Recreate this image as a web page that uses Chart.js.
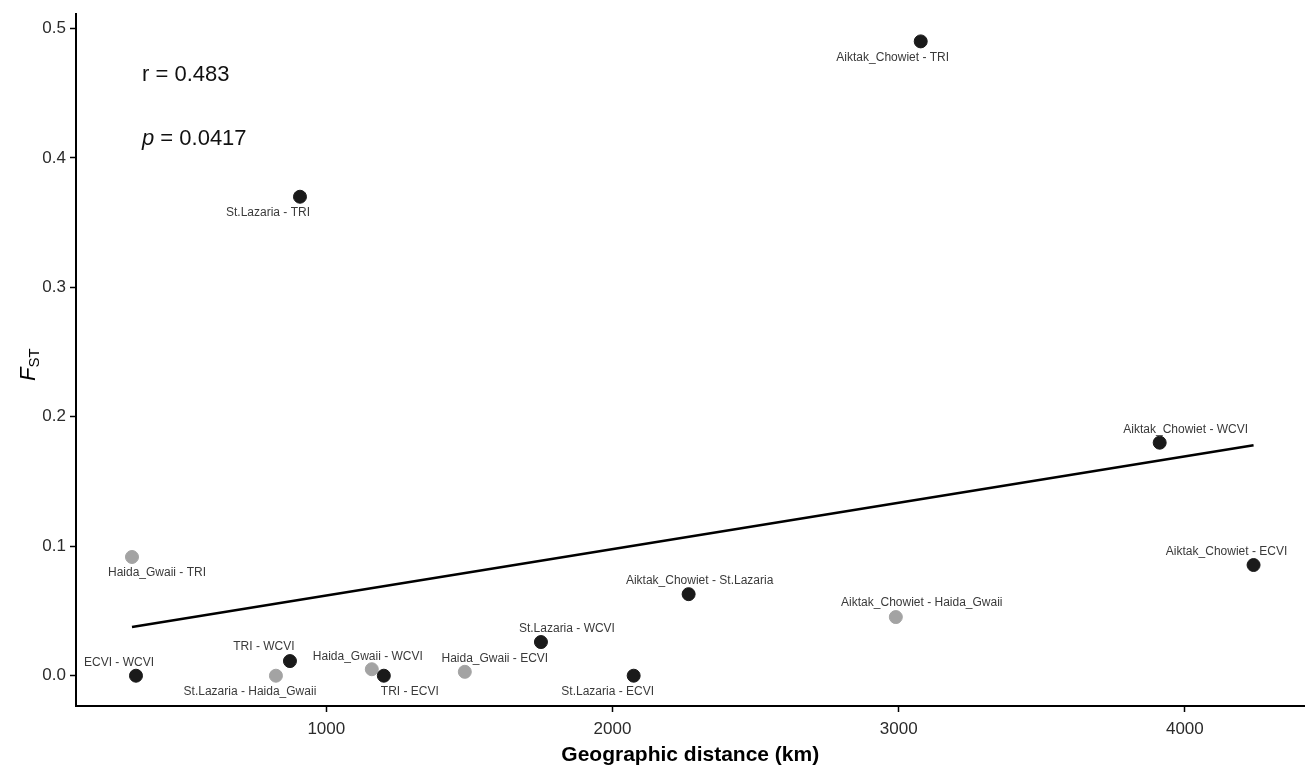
<!DOCTYPE html>
<html>
<head>
<meta charset="utf-8">
<script src="https://cdn.jsdelivr.net/npm/chart.js@4.4.1/dist/chart.umd.min.js"></script>
<style>
  html, body { margin: 0; padding: 0; background: #fff; }
  #wrap { width: 1312px; height: 773px; }
</style>
</head>
<body>
<div id="wrap"><canvas id="chart" width="1312" height="773"></canvas></div>
<script>
// DATA
const pairs = [
  "Aiktak_Chowiet - TRI", "St.Lazaria - TRI", "Aiktak_Chowiet - WCVI", "Aiktak_Chowiet - ECVI",
  "Haida_Gwaii - TRI", "Aiktak_Chowiet - St.Lazaria", "Aiktak_Chowiet - Haida_Gwaii", "St.Lazaria - WCVI",
  "ECVI - WCVI", "TRI - WCVI", "St.Lazaria - Haida_Gwaii", "Haida_Gwaii - WCVI",
  "TRI - ECVI", "Haida_Gwaii - ECVI", "St.Lazaria - ECVI"
];
const distanceKm = [3077, 908, 3912, 4240, 321, 2266, 2990, 1750, 335, 873, 824, 1159, 1201, 1484, 2074];
const fst = [0.490, 0.370, 0.180, 0.0855, 0.0917, 0.063, 0.0453, 0.026, 0.0, 0.0113, 0.0, 0.005, 0.0, 0.003, 0.0];
const isHaidaPair = [false, false, false, false, true, false, true, false, false, false, true, true, false, true, false];
const fitX = [321, 4240];
const fitY = [0.0376, 0.178];
const xTicks = [1000, 2000, 3000, 4000];
const yTicks = [0, 0.1, 0.2, 0.3, 0.4, 0.5];
const statR = "0.483";
const statP = "0.0417";

// label placement (px offsets from point, like ggrepel)
const labelOffsets = [
  [-28, 16], [-32, 16], [26, -13], [-27, -13],
  [25, 16], [11, -13], [26, -14], [26, -13],
  [-17, -13], [-26, -14], [-26, 16], [-4, -13],
  [26, 16], [30, -13], [-26, 16]
];

const points = distanceKm.map((d, i) => ({ x: d, y: fst[i] }));
const colors = isHaidaPair.map(h => h ? "#a3a3a3" : "#1a1a1a");
const fitLine = fitX.map((x, i) => ({ x: x, y: fitY[i] }));

const FONT = "'Liberation Sans', Arial, sans-serif";

const labelPlugin = {
  id: "labels",
  afterDatasetsDraw(c) {
    const ctx = c.ctx;
    const meta = c.getDatasetMeta(1);
    ctx.save();
    ctx.font = "12px " + FONT;
    ctx.fillStyle = "#3a3a3a";
    ctx.textAlign = "center";
    ctx.textBaseline = "middle";
    meta.data.forEach((el, i) => {
      const o = labelOffsets[i];
      ctx.fillText(pairs[i], el.x + o[0], el.y + o[1]);
    });

    // stats text
    const xs = c.scales.x, ys = c.scales.y;
    const tx = xs.getPixelForValue(356);
    ctx.font = "22px " + FONT;
    ctx.fillStyle = "#111";
    ctx.textAlign = "left";
    ctx.fillText("r = " + statR, tx, ys.getPixelForValue(0.464));
    const py = ys.getPixelForValue(0.415);
    ctx.font = "italic 22px " + FONT;
    ctx.fillText("p", tx, py);
    const pw = ctx.measureText("p ").width;
    ctx.font = "22px " + FONT;
    ctx.fillText("= " + statP, tx + pw, py);

    // axis titles
    ctx.font = "bold 21px " + FONT;
    ctx.textAlign = "center";
    ctx.fillStyle = "#000";
    ctx.fillText("Geographic distance (km)", (c.chartArea.left + c.chartArea.right) / 2, 755);

    ctx.translate(29, 367);
    ctx.rotate(-Math.PI / 2);
    ctx.font = "italic 22px " + FONT;
    ctx.textAlign = "left";
    ctx.fillText("F", -14, 0);
    const fw = ctx.measureText("F").width;
    ctx.font = "15px " + FONT;
    ctx.fillText("ST", -14 + fw, 6);
    ctx.restore();
  }
};

const ctx = document.getElementById("chart").getContext("2d");
new Chart(ctx, {
  type: "scatter",
  data: {
    datasets: [
      {
        type: "line",
        data: fitLine,
        borderColor: "#000",
        borderWidth: 2.5,
        pointRadius: 0,
        fill: false,
        order: 2
      },
      {
        data: points,
        backgroundColor: colors,
        borderColor: colors,
        pointRadius: 6.5,
        pointHoverRadius: 6.5,
        order: 1
      }
    ]
  },
  options: {
    responsive: false,
    animation: false,
    layout: { padding: { top: 8, right: 0, left: 0, bottom: 0 } },
    plugins: { legend: { display: false }, tooltip: { enabled: false } },
    scales: {
      x: {
        type: "linear",
        min: 125.4,
        max: 4418,
        afterBuildTicks: s => { s.ticks = xTicks.map(v => ({ value: v })); },
        afterFit: s => { s.height = 67; },
        grid: { drawOnChartArea: false, drawTicks: true, tickLength: 6, color: "#000", tickWidth: 1.5 },
        border: { display: true, color: "#000", width: 2 },
        ticks: { color: "#2b2b2b", font: { size: 17, family: FONT }, padding: 7, callback: v => String(v) }
      },
      y: {
        type: "linear",
        min: -0.0234,
        max: 0.511,
        afterBuildTicks: s => { s.ticks = yTicks.map(v => ({ value: v })); },
        afterFit: s => { s.width = 76; },
        grid: { drawOnChartArea: false, drawTicks: true, tickLength: 6, color: "#000", tickWidth: 1.5 },
        border: { display: true, color: "#000", width: 2 },
        ticks: { color: "#2b2b2b", font: { size: 17, family: FONT }, padding: 4, callback: v => v.toFixed(1) }
      }
    }
  },
  plugins: [labelPlugin]
});
</script>
</body>
</html>
